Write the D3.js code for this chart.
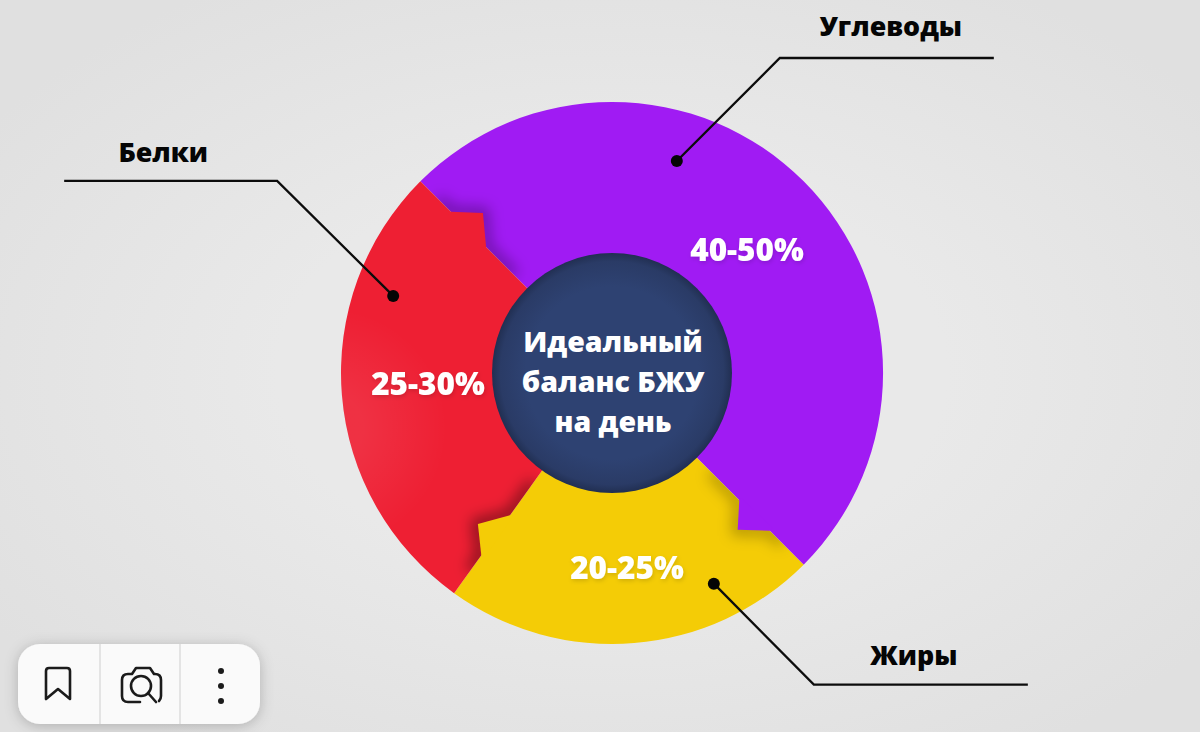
<!DOCTYPE html>
<html>
  <head>
    <meta charset="utf-8" />
    <title>Баланс БЖУ</title>
    <style type="text/css">
      html, body { margin: 0; padding: 0; background: #e4e4e4; }
      svg { display: block; }
      text { font-family: "Open Sans", sans-serif; font-weight: 800; }
    </style>
  </head>
  <body>
    <div id="chart"></div>

    <script src="https://cdn.jsdelivr.net/npm/d3@7"></script>
    <script type="text/javascript">

    // clockwise from the purple/red edge
    var categories = ['Углеводы', 'Жиры', 'Белки'],
        shares = [50, 22.4, 27.6],
        shareLabels = ['40-50%', '20-25%', '25-30%'],
        colors = ['#a01bf3', '#f4cc06', '#ee1f33'],
        centerLines = ['Идеальный', 'баланс БЖУ', 'на день'];

    var width = 1200, height = 732,
        cx = 612, cy = 373,
        outerR = 271, innerR = 120;

    var rad = function(d) { return d * Math.PI / 180; };

    var svg = d3.select('#chart').append('svg')
      .attr('width', width)
      .attr('height', height);

    var defs = svg.append('defs');

    var bg = defs.append('radialGradient').attr('id', 'bg').attr('cx', '51%').attr('cy', '51%').attr('r', '62%');
    bg.append('stop').attr('offset', '45%').attr('stop-color', '#e9e9e9');
    bg.append('stop').attr('offset', '100%').attr('stop-color', '#e0e0e0');

    var hub = defs.append('radialGradient').attr('id', 'hub');
    hub.append('stop').attr('offset', '72%').attr('stop-color', '#2e4272');
    hub.append('stop').attr('offset', '93%').attr('stop-color', '#2a3b66');
    hub.append('stop').attr('offset', '100%').attr('stop-color', '#212f52');

    // soft pale patch on the left rim of the red slice
    var glow = defs.append('radialGradient').attr('id', 'glow')
      .attr('gradientUnits', 'userSpaceOnUse')
      .attr('cx', -285).attr('cy', 55).attr('r', 120);
    glow.append('stop').attr('offset', '30%').attr('stop-color', '#fff').attr('stop-opacity', 0.08);
    glow.append('stop').attr('offset', '100%').attr('stop-color', '#fff').attr('stop-opacity', 0);

    defs.append('filter').attr('id', 'soft').attr('x', '-60%').attr('y', '-60%').attr('width', '220%').attr('height', '220%')
      .append('feGaussianBlur').attr('stdDeviation', 7);

    var ts = defs.append('filter').attr('id', 'textShadow').attr('x', '-10%').attr('y', '-20%').attr('width', '120%').attr('height', '150%');
    ts.append('feDropShadow').attr('dx', 1).attr('dy', 2).attr('stdDeviation', 2)
      .attr('flood-color', '#000').attr('flood-opacity', 0.14);

    var card = defs.append('filter').attr('id', 'cardShadow').attr('x', '-15%').attr('y', '-30%').attr('width', '130%').attr('height', '170%');
    card.append('feDropShadow').attr('dx', 0).attr('dy', 2).attr('stdDeviation', 7)
      .attr('flood-color', '#000').attr('flood-opacity', 0.22);

    svg.append('rect').attr('width', width).attr('height', height).attr('fill', 'url(#bg)');

    var pie = d3.pie().sort(null).value(function(d) { return d; })
      .startAngle(rad(-45)).endAngle(rad(315));
    var arc = d3.arc().innerRadius(innerR - 4).outerRadius(outerR);
    var arcs = pie(shares);

    var g = svg.append('g').attr('transform', 'translate(' + cx + ',' + cy + ')');

    arcs.forEach(function(d, i) {
      defs.append('clipPath').attr('id', 'seg' + i).append('path').attr('d', arc(d));
    });

    g.selectAll('path.slice').data(arcs).enter().append('path')
      .attr('class', 'slice')
      .attr('d', arc)
      .attr('fill', function(d, i) { return colors[i]; });

    g.append('path').attr('d', arc(arcs[2])).attr('fill', 'url(#glow)');

    // stepped edges: owner slice pokes a tab into the neighbour
    var tabs = [
      { edge: -45, rIn: 178, rOut: 228, tip: [-38.9, 205.5], owner: 2, into: 0, shade: 0.3 },
      { edge: 135, rIn: 180, rOut: 223, tip: [141.3, 201], owner: 0, into: 1, shade: 0.25 },
      { edge: 215.6, rIn: 175, rOut: 224.5, tip: [221.6, 202], owner: 1, into: 2, shade: 0.42 }
    ];

    var radial = d3.lineRadial()
      .angle(function(p) { return rad(p[0]); })
      .radius(function(p) { return p[1]; });

    tabs.forEach(function(t) {
      var tab = [[t.edge, t.rIn], t.tip, [t.edge, t.rOut]],
          back = t.edge - (t.tip[0] > t.edge ? 1 : -1);   // tuck the base under the owner's side
      g.append('g').attr('clip-path', 'url(#seg' + t.into + ')')
        .append('path')
        .attr('d', radial([[t.edge, t.rIn - 40]].concat(tab, [[t.edge, t.rOut + 18]])))
        .attr('fill', 'none')
        .attr('stroke', '#000')
        .attr('stroke-width', 12)
        .attr('stroke-opacity', t.shade)
        .attr('filter', 'url(#soft)');
      g.append('path')
        .attr('d', radial(tab.concat([[back, t.rOut], [back, t.rIn]])) + 'Z')
        .attr('fill', colors[t.owner]);
    });

    g.append('circle').attr('r', innerR).attr('fill', 'url(#hub)');

    // percent labels, polar positions [deg, radius]
    var labelPos = [[47.7, 182.6], [175.6, 195.6], [266.6, 184.3]];
    g.selectAll('text.share').data(shareLabels).enter().append('text')
      .attr('class', 'share')
      .attr('transform', function(d, i) {
        var p = d3.pointRadial(rad(labelPos[i][0]), labelPos[i][1]);
        return 'translate(' + p[0] + ',' + p[1] + ')';
      })
      .attr('text-anchor', 'middle')
      .attr('dy', '0.36em')
      .attr('fill', '#fff')
      .attr('font-size', 31.5)
      .attr('filter', 'url(#textShadow)')
      .text(function(d) { return d; });

    g.selectAll('text.center').data(centerLines).enter().append('text')
      .attr('class', 'center')
      .attr('x', 1)
      .attr('y', function(d, i) { return -31 + i * 40; })
      .attr('text-anchor', 'middle')
      .attr('dy', '0.36em')
      .attr('fill', '#fff')
      .attr('font-size', 28.5)
      .text(function(d) { return d; });

    // leaders: dot (polar), 45deg run, then a flat shelf with the name above it
    var leaders = [
      { i: 0, at: [17, 221.7], dx: 103, dy: -103, shelf: 214, tx: 111, ty: -32 },
      { i: 1, at: [154.2, 234], dx: 100, dy: 101, shelf: 214, tx: 100, ty: -29 },
      { i: 2, at: [-70.6, 232], dx: -116, dy: -115, shelf: -213, tx: -114, ty: -29 }
    ];

    leaders.forEach(function(l) {
      var p = d3.pointRadial(rad(l.at[0]), l.at[1]),
          bend = [p[0] + l.dx, p[1] + l.dy],
          end = [bend[0] + l.shelf, bend[1]];
      g.append('path')
        .attr('d', d3.line()([p, bend, end]))
        .attr('fill', 'none')
        .attr('stroke', '#0c0c0c')
        .attr('stroke-width', 2.3);
      g.append('circle').attr('cx', p[0]).attr('cy', p[1]).attr('r', 6).attr('fill', '#050505');
      g.append('text')
        .attr('x', bend[0] + l.tx)
        .attr('y', bend[1] + l.ty)
        .attr('text-anchor', 'middle')
        .attr('dy', '0.36em')
        .attr('fill', '#050505')
        .attr('font-size', 26.8)
        .text(categories[l.i]);
    });

    // screenshot toolbar, bottom left
    var bar = svg.append('g').attr('transform', 'translate(18,644)');
    bar.append('rect').attr('width', 242).attr('height', 80).attr('rx', 22)
      .attr('fill', '#fafafa').attr('filter', 'url(#cardShadow)');
    [82, 162].forEach(function(x) {
      bar.append('line').attr('x1', x).attr('x2', x).attr('y1', 0).attr('y2', 80)
        .attr('stroke', '#dcdcdc').attr('stroke-width', 1.5);
    });
    var icon = bar.append('g').attr('fill', 'none').attr('stroke', '#1b1b1b')
      .attr('stroke-width', 2.6).attr('stroke-linejoin', 'round').attr('stroke-linecap', 'round');
    icon.append('path').attr('d', 'M28 55 V27 Q28 24 31 24 H49 Q52 24 52 27 V55 L40 45 Z');
    icon.append('path').attr('d', 'M122 58 H110 Q104 58 104 52 V36 Q104 30 110 30 H114 L118 24 H132 L136 30 H137 Q143 30 143 36 V52 Q143 55 141 57');
    icon.append('circle').attr('cx', 123).attr('cy', 42).attr('r', 10);
    icon.append('path').attr('d', 'M130 49 L138 58');
    [27, 42, 57].forEach(function(y) {
      bar.append('circle').attr('cx', 203).attr('cy', y).attr('r', 3).attr('fill', '#1b1b1b');
    });

    </script>
  </body>
</html>
